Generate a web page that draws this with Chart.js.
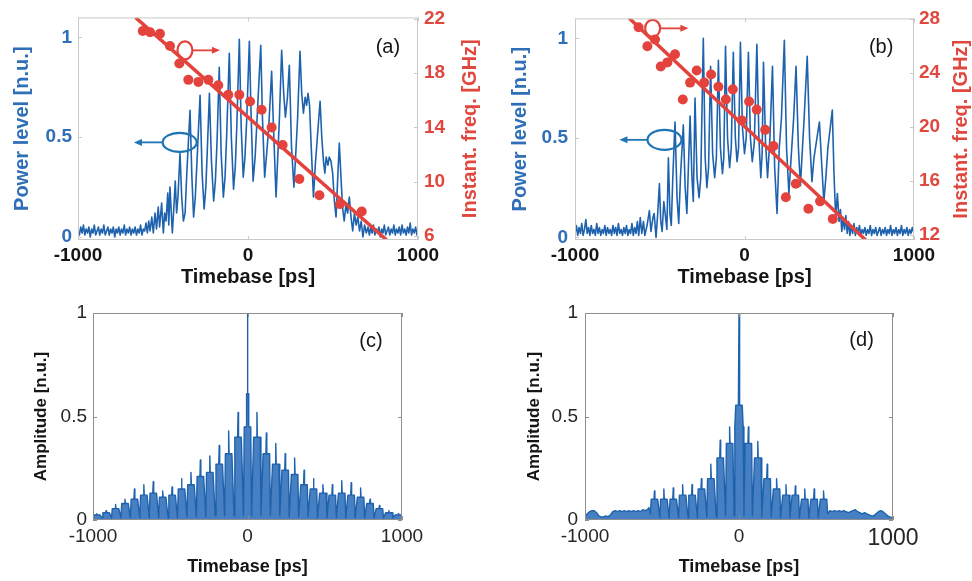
<!DOCTYPE html>
<html>
<head>
<meta charset="utf-8">
<script src="https://cdn.jsdelivr.net/npm/chart.js@4.4.1/dist/chart.umd.min.js"></script>
<style>
  html, body { margin: 0; padding: 0; background: #fff; }
  #wrap { position: relative; width: 972px; height: 581px; overflow: hidden; }
  canvas { position: absolute; }
</style>
</head>
<body>
<div id="wrap">
  <canvas id="chartA" width="486" height="290" style="left:0;top:0"></canvas>
  <canvas id="chartB" width="486" height="290" style="left:486px;top:0"></canvas>
  <canvas id="chartC" width="486" height="291" style="left:0;top:290px"></canvas>
  <canvas id="chartD" width="486" height="291" style="left:486px;top:290px"></canvas>
</div>
<script>
// tick labels
const timeTicks = [-1000, 0, 1000];
const powerTicks = [0, 0.5, 1];
const freqTicksA = [6, 10, 14, 18, 22];
const freqTicksB = [12, 16, 20, 24, 28];
const ampTicks = [0, 0.5, 1];

// (a) pulse power, [time ps, power n.u.]
const powerA = [
  [-1000,0.03],[-992,0.01],[-984,0.05],[-976,0.02],[-968,0.06],[-960,0.01],[-952,0.04],[-944,0.02],[-936,0.05],[-928,0.0],
  [-920,0.04],[-912,0.02],[-904,0.06],[-896,0.01],[-888,0.03],[-880,0.05],[-872,0.01],[-864,0.04],[-856,0.02],[-848,0.06],
  [-840,0.01],[-832,0.03],[-824,0.05],[-816,0.01],[-808,0.04],[-800,0.02],[-792,0.05],[-784,0.0],[-776,0.04],[-768,0.02],
  [-760,0.05],[-752,0.01],[-744,0.04],[-736,0.02],[-728,0.06],[-720,0.01],[-712,0.04],[-704,0.02],[-696,0.05],[-688,0.01],
  [-680,0.04],[-672,0.02],[-664,0.05],[-656,0.01],[-648,0.04],[-640,0.02],[-632,0.06],[-624,0.01],[-616,0.04],[-608,0.03],
  [-600,0.07],[-592,0.02],[-584,0.08],[-576,0.03],[-566,0.1],[-557,0.02],[-547,0.12],[-538,0.04],[-528,0.15],[-520,0.05],
  [-508,0.17],[-498,0.02],[-490,0.12],[-482,0.08],[-472,0.22],[-466,0.06],[-459,0.25],[-450,0.1],[-445,0.02],[-436,0.15],
  [-428,0.28],[-420,0.12],[-412,0.2],[-400,0.42],[-390,0.2],[-380,0.08],[-370,0.12],[-360,0.32],[-341,0.635],[-330,0.3],
  [-320,0.1],[-310,0.2],[-300,0.38],[-282,0.71],[-270,0.32],[-258,0.14],[-248,0.25],[-240,0.42],[-227,0.72],[-215,0.38],
  [-202,0.18],[-192,0.28],[-182,0.48],[-169,0.85],[-158,0.42],[-145,0.2],[-135,0.3],[-125,0.52],[-110,0.92],[-98,0.5],
  [-85,0.24],[-75,0.35],[-66,0.55],[-51,0.99],[-40,0.55],[-28,0.3],[-18,0.4],[-8,0.58],[8,0.98],[18,0.62],
  [30,0.28],[42,0.4],[55,0.62],[75,0.96],[85,0.6],[98,0.3],[110,0.42],[122,0.55],[139,0.83],[150,0.55],
  [165,0.2],[175,0.4],[185,0.6],[198,0.935],[210,0.72],[220,0.6],[232,0.7],[243,0.86],[256,0.45],[270,0.25],
  [280,0.4],[292,0.6],[306,0.93],[316,0.72],[326,0.62],[336,0.7],[345,0.66],[353,0.72],[362,0.66],[372,0.45],
  [385,0.2],[395,0.35],[408,0.5],[424,0.68],[434,0.5],[444,0.38],[452,0.32],[460,0.4],[470,0.36],[478,0.4],
  [488,0.38],[498,0.32],[508,0.18],[518,0.1],[528,0.3],[537,0.47],[547,0.3],[556,0.15],[566,0.08],[576,0.16],
  [586,0.12],[596,0.2],[606,0.1],[616,0.03],[626,0.12],[636,0.06],[646,0.1],[656,0.03],[666,0.08],[676,0.0],
  [686,0.06],[696,0.02],[706,0.05],[714,0.01],[722,0.05],[730,0.02],[738,0.06],[746,0.01],[754,0.04],[762,0.02],
  [770,0.05],[778,0.0],[786,0.04],[794,0.02],[802,0.06],[810,0.01],[818,0.03],[826,0.05],[834,0.01],[842,0.04],
  [850,0.02],[858,0.06],[866,0.01],[874,0.04],[882,0.02],[890,0.05],[898,0.01],[906,0.06],[914,0.02],[922,0.04],
  [930,0.01],[938,0.05],[946,0.02],[954,0.07],[962,0.01],[970,0.04],[978,0.02],[986,0.05],[994,0.01],[1000,0.03]
];
// (a) instantaneous frequency, [time ps, GHz]
const freqA = [
  [-619,21.1],[-576,21.0],[-518,20.9],[-459,20.0],[-404,18.7],[-351,17.5],[-292,17.35],[-233,17.5],[-175,17.1],[-116,16.4],
  [-51,16.4],[12,15.9],[80,15.3],[139,14.0],[204,12.7],[302,10.2],[420,9.0],[541,8.35],[669,7.8]
];
const fitA = [[-662,22.1],[816,5.7]];

// (b) pulse power
const powerB = [
  [-1000,0.02],[-992,0.06],[-984,0.01],[-976,0.05],[-968,0.02],[-960,0.07],[-952,0.01],[-944,0.04],[-936,0.09],[-928,0.02],
  [-920,0.05],[-912,0.01],[-904,0.06],[-896,0.02],[-888,0.04],[-880,0.01],[-872,0.07],[-864,0.02],[-856,0.05],[-848,0.01],
  [-840,0.04],[-832,0.02],[-824,0.06],[-816,0.01],[-808,0.05],[-800,0.02],[-792,0.04],[-784,0.01],[-776,0.06],[-768,0.02],
  [-760,0.05],[-752,0.01],[-744,0.07],[-736,0.02],[-728,0.04],[-720,0.01],[-712,0.05],[-704,0.02],[-696,0.06],[-688,0.01],
  [-680,0.04],[-672,0.02],[-664,0.07],[-656,0.01],[-648,0.05],[-640,0.02],[-632,0.08],[-624,0.01],[-615,0.1],[-606,0.02],
  [-596,0.08],[-588,0.01],[-575,0.06],[-561,0.135],[-552,0.03],[-540,0.1],[-533,0.12],[-522,0.0],[-512,0.12],[-502,0.27],
  [-494,0.08],[-486,0.03],[-476,0.18],[-468,0.12],[-458,0.04],[-449,0.4],[-440,0.12],[-432,0.06],[-423,0.3],[-410,0.58],
  [-398,0.2],[-388,0.07],[-378,0.3],[-361,0.565],[-350,0.25],[-340,0.12],[-321,0.61],[-310,0.3],[-302,0.18],[-292,0.7],
  [-280,0.3],[-268,0.2],[-258,0.3],[-243,1.0],[-232,0.4],[-222,0.25],[-212,0.35],[-200,0.86],[-188,0.42],[-176,0.3],
  [-166,0.4],[-154,0.89],[-142,0.45],[-130,0.32],[-122,0.4],[-112,0.96],[-100,0.5],[-88,0.35],[-78,0.45],[-66,0.93],
  [-54,0.5],[-44,0.38],[-35,0.45],[-24,0.98],[-12,0.55],[0,0.42],[10,0.5],[23,0.93],[35,0.5],[46,0.38],
  [58,0.48],[73,0.97],[85,0.5],[96,0.3],[104,0.42],[112,0.88],[124,0.48],[136,0.3],[150,0.5],[165,0.86],
  [178,0.35],[192,0.12],[205,0.45],[218,0.6],[235,0.99],[248,0.45],[262,0.22],[275,0.4],[290,0.6],[304,0.86],
  [318,0.45],[330,0.26],[342,0.45],[352,0.6],[370,0.91],[384,0.5],[398,0.28],[410,0.4],[424,0.48],[442,0.58],
  [456,0.36],[468,0.18],[480,0.3],[492,0.45],[518,0.64],[528,0.32],[538,0.1],[548,0.22],[558,0.08],[566,0.14],
  [574,0.03],[582,0.1],[590,0.04],[598,0.11],[606,0.02],[614,0.08],[622,0.01],[630,0.06],[638,0.02],[646,0.07],
  [654,0.01],[662,0.05],[670,0.02],[678,0.06],[686,0.01],[694,0.04],[702,0.02],[710,0.05],[718,0.01],[726,0.04],
  [734,0.02],[742,0.06],[750,0.01],[758,0.04],[766,0.02],[774,0.05],[782,0.01],[790,0.03],[798,0.05],[806,0.01],
  [814,0.04],[822,0.02],[830,0.05],[838,0.01],[846,0.04],[854,0.02],[862,0.06],[870,0.01],[878,0.04],[886,0.02],
  [894,0.05],[902,0.01],[910,0.04],[918,0.02],[926,0.06],[934,0.01],[942,0.04],[950,0.02],[958,0.05],[966,0.01],
  [974,0.04],[982,0.02],[990,0.05],[1000,0.02]
];
const freqB = [
  [-625,27.4],[-573,26.0],[-528,26.5],[-494,24.5],[-455,24.8],[-410,25.4],[-364,22.05],[-321,23.3],[-282,24.2],[-238,23.3],
  [-197,23.9],[-154,23.0],[-110,22.05],[-69,22.8],[-16,20.5],[27,21.9],[72,21.3],[122,19.8],[171,18.6],[244,14.8],
  [303,15.8],[377,13.95],[446,14.5],[521,13.2]
];
const fitB = [[-680,28.07],[718,11.6]];

// (c) autocorrelation amplitude, [time ps, n.u.]
const ampC = [
  [-1000,0.01],[-997,0.025],[-979,0.025],[-976,0.03],[-973,0.025],[-955,0.025],
  [-941,0.01],[-936,0.035],[-918,0.035],[-915,0.045],[-912,0.035],[-894,0.035],
  [-880,0.01],[-875,0.055],[-857,0.055],[-854,0.075],[-851,0.055],[-833,0.055],
  [-819,0.01],[-814,0.08],[-796,0.08],[-793,0.1],[-790,0.08],[-772,0.08],
  [-758,0.01],[-753,0.1],[-735,0.1],[-732,0.15],[-729,0.1],[-711,0.1],
  [-697,0.01],[-692,0.12],[-674,0.12],[-671,0.17],[-668,0.12],[-650,0.12],
  [-636,0.01],[-631,0.13],[-613,0.13],[-610,0.185],[-607,0.13],[-589,0.13],
  [-575,0.01],[-570,0.11],[-552,0.11],[-549,0.14],[-546,0.11],[-528,0.11],
  [-514,0.01],[-509,0.12],[-491,0.12],[-488,0.16],[-485,0.12],[-467,0.12],
  [-453,0.01],[-448,0.15],[-430,0.15],[-427,0.2],[-424,0.15],[-406,0.15],
  [-392,0.015],[-387,0.17],[-369,0.17],[-366,0.23],[-363,0.17],[-345,0.17],
  [-331,0.015],[-326,0.21],[-308,0.21],[-305,0.29],[-302,0.21],[-284,0.21],
  [-270,0.015],[-265,0.23],[-247,0.23],[-244,0.31],[-241,0.23],[-223,0.23],
  [-209,0.02],[-204,0.27],[-186,0.27],[-183,0.36],[-180,0.27],[-162,0.27],
  [-148,0.02],[-143,0.32],[-125,0.32],[-122,0.43],[-119,0.32],[-101,0.32],
  [-87,0.02],[-82,0.4],[-64,0.4],[-61,0.52],[-58,0.4],[-40,0.4],
  [-26,0.02],[-21,0.45],[-8,0.45],[-6,0.61],[-2,0.61],[0,1.0],[2,0.61],[6,0.61],[8,0.45],[21,0.45],[26,0.02],
  [40,0.4],[58,0.4],[61,0.52],[64,0.4],[82,0.4],[87,0.02],
  [101,0.32],[119,0.32],[122,0.42],[125,0.32],[143,0.32],[148,0.02],
  [162,0.27],[180,0.27],[183,0.37],[186,0.27],[204,0.27],[209,0.02],
  [223,0.24],[241,0.24],[244,0.32],[247,0.24],[265,0.24],[270,0.015],
  [284,0.22],[302,0.22],[305,0.3],[308,0.22],[326,0.22],[331,0.015],
  [345,0.17],[363,0.17],[366,0.24],[369,0.17],[387,0.17],[392,0.015],
  [406,0.15],[424,0.15],[427,0.2],[430,0.15],[448,0.15],[453,0.01],
  [467,0.13],[485,0.13],[488,0.17],[491,0.13],[509,0.13],[514,0.01],
  [528,0.12],[546,0.12],[549,0.17],[552,0.12],[570,0.12],[575,0.01],
  [589,0.13],[607,0.13],[610,0.19],[613,0.13],[631,0.13],[636,0.01],
  [650,0.12],[668,0.12],[671,0.18],[674,0.12],[692,0.12],[697,0.01],
  [711,0.11],[729,0.11],[732,0.155],[735,0.11],[753,0.11],[758,0.01],
  [772,0.08],[790,0.08],[793,0.1],[796,0.08],[814,0.08],[819,0.01],
  [833,0.055],[851,0.055],[854,0.07],[857,0.055],[875,0.055],[880,0.01],
  [894,0.035],[912,0.035],[915,0.045],[918,0.035],[936,0.035],[941,0.01],
  [955,0.025],[973,0.025],[976,0.03],[979,0.025],[997,0.025],[1000,0.01]
];

// (d) autocorrelation amplitude
const ampD = [
  [-1000,0.015],[-985,0.03],[-970,0.04],[-955,0.045],[-940,0.045],[-925,0.035],[-910,0.02],[-895,0.015],[-880,0.015],[-865,0.02],
  [-850,0.015],[-835,0.025],[-820,0.04],[-805,0.045],[-790,0.04],[-775,0.045],[-760,0.04],[-745,0.045],[-730,0.04],[-715,0.045],
  [-700,0.04],[-685,0.045],[-670,0.04],[-655,0.045],[-640,0.04],[-625,0.05],[-610,0.045],[-595,0.05],[-585,0.06],
  [-575,0.03],[-570,0.1],[-552,0.1],[-549,0.14],[-546,0.1],[-528,0.1],
  [-514,0.01],[-509,0.1],[-491,0.1],[-488,0.15],[-485,0.1],[-467,0.1],
  [-453,0.01],[-448,0.1],[-430,0.1],[-427,0.155],[-424,0.1],[-406,0.1],
  [-392,0.01],[-387,0.12],[-369,0.12],[-366,0.17],[-363,0.12],[-345,0.12],
  [-331,0.01],[-326,0.12],[-308,0.12],[-305,0.17],[-302,0.12],[-284,0.12],
  [-270,0.01],[-265,0.15],[-247,0.15],[-244,0.2],[-241,0.15],[-223,0.15],
  [-209,0.015],[-204,0.2],[-186,0.2],[-183,0.27],[-180,0.2],[-162,0.2],
  [-148,0.015],[-143,0.3],[-125,0.3],[-122,0.386],[-119,0.3],[-101,0.3],
  [-87,0.02],[-82,0.37],[-64,0.37],[-61,0.45],[-58,0.37],[-40,0.37],
  [-32,0.02],[-27,0.45],[-21,0.555],[-4,0.555],[0,1.0],[4,0.555],[21,0.555],[27,0.45],[32,0.02],
  [40,0.37],[58,0.37],[61,0.45],[64,0.37],[82,0.37],[87,0.02],
  [101,0.3],[119,0.3],[122,0.38],[125,0.3],[143,0.3],[148,0.015],
  [162,0.2],[180,0.2],[183,0.27],[186,0.2],[204,0.2],[209,0.015],
  [223,0.15],[241,0.15],[244,0.2],[247,0.15],[265,0.15],[270,0.01],
  [284,0.12],[302,0.12],[305,0.17],[308,0.12],[326,0.12],[331,0.01],
  [345,0.12],[363,0.12],[366,0.165],[369,0.12],[387,0.12],[392,0.01],
  [406,0.1],[424,0.1],[427,0.15],[430,0.1],[448,0.1],[453,0.01],
  [467,0.1],[485,0.1],[488,0.15],[491,0.1],[509,0.1],[514,0.01],
  [528,0.1],[546,0.1],[549,0.14],[552,0.1],[570,0.1],[575,0.03],
  [590,0.045],[605,0.04],[620,0.045],[635,0.04],[650,0.045],[665,0.04],[680,0.045],[695,0.04],[710,0.035],[725,0.04],
  [740,0.045],[755,0.05],[770,0.04],[785,0.035],[800,0.03],[815,0.035],[830,0.03],[845,0.025],[860,0.02],[875,0.02],
  [890,0.03],[905,0.04],[920,0.045],[935,0.04],[950,0.03],[965,0.02],[980,0.015],[1000,0.01]
];

const FONT = '"Liberation Sans", Arial, Helvetica, sans-serif';
const BLUE = '#1e62ae';
const BLUE_TXT = '#2f6fb8';
const RED = '#e4433d';
const RED_TXT = '#e0483f';
const INK = '#151515';

Chart.defaults.font.family = FONT;

const xy = arr => arr.map(p => ({ x: p[0], y: p[1] }));
const fixTicks = vals => axis => { axis.ticks = vals.map(v => ({ value: v })); };
const plain = v => String(v);

// frame, inward ticks, panel tag, ellipse markers, right-hand title
const decor = {
  id: 'decor',
  afterDatasetsDraw(chart, args, o) {
    const { ctx, scales } = chart;
    ctx.save();
    (o.marks || []).forEach(m => {
      const cx = scales.x.getPixelForValue(m.x);
      const cy = scales.y.getPixelForValue(m.y);
      const tip = scales.x.getPixelForValue(m.to);
      const dir = tip > cx ? 1 : -1;
      ctx.strokeStyle = m.color;
      ctx.fillStyle = m.color;
      ctx.lineWidth = 2.2;
      ctx.beginPath();
      ctx.ellipse(cx, cy, m.rx, m.ry, 0, 0, Math.PI * 2);
      ctx.stroke();
      ctx.lineWidth = 1.8;
      ctx.beginPath();
      ctx.moveTo(cx + dir * m.rx, cy);
      ctx.lineTo(tip - dir * 6, cy);
      ctx.stroke();
      ctx.beginPath();
      ctx.moveTo(tip, cy);
      ctx.lineTo(tip - dir * 8, cy - 3.5);
      ctx.lineTo(tip - dir * 8, cy + 3.5);
      ctx.closePath();
      ctx.fill();
    });
    ctx.restore();
  },
  afterDraw(chart, args, o) {
    const { ctx, chartArea: a, scales } = chart;
    const seg = (x1, y1, x2, y2) => { ctx.beginPath(); ctx.moveTo(x1, y1); ctx.lineTo(x2, y2); ctx.stroke(); };
    ctx.save();
    ctx.strokeStyle = o.frame;
    ctx.lineWidth = 1;
    ctx.strokeRect(a.left + 0.5, a.top + 0.5, a.right - a.left - 1, a.bottom - a.top - 1);
    const T = 4;
    scales.x.ticks.forEach(t => {
      const px = Math.round(scales.x.getPixelForValue(t.value)) + 0.5;
      seg(px, a.bottom, px, a.bottom - T);
      seg(px, a.top, px, a.top + T);
    });
    scales.y.ticks.forEach(t => {
      const py = Math.round(scales.y.getPixelForValue(t.value)) + 0.5;
      seg(a.left, py, a.left + T, py);
      if (!scales.y1) seg(a.right, py, a.right - T, py);
    });
    if (scales.y1) {
      scales.y1.ticks.forEach(t => {
        const py = Math.round(scales.y1.getPixelForValue(t.value)) + 0.5;
        seg(a.right, py, a.right - T, py);
      });
    }
    if (o.tag) {
      ctx.fillStyle = INK;
      ctx.font = '20px ' + FONT;
      ctx.textAlign = 'center';
      ctx.textBaseline = 'middle';
      ctx.fillText(o.tag.text, scales.x.getPixelForValue(o.tag.x), scales.y.getPixelForValue(o.tag.y));
    }
    if (o.rightTitle) {
      ctx.translate(scales.y1.right - o.rightTitle.offset, (a.top + a.bottom) / 2);
      ctx.rotate(-Math.PI / 2);
      ctx.fillStyle = RED_TXT;
      ctx.font = 'bold 20px ' + FONT;
      ctx.textAlign = 'center';
      ctx.textBaseline = 'middle';
      ctx.fillText(o.rightTitle.text, 0, 0);
    }
    ctx.restore();
  }
};

function topPanel(id, cfg) {
  return new Chart(document.getElementById(id), {
    type: 'line',
    data: {
      datasets: [
        { data: xy(cfg.freq), yAxisID: 'y1', showLine: false, pointRadius: 5, pointHoverRadius: 5,
          pointBackgroundColor: RED, pointBorderWidth: 0 },
        { data: xy(cfg.fit), yAxisID: 'y1', borderColor: RED, borderWidth: 3.5, pointRadius: 0 },
        { data: xy(cfg.power), yAxisID: 'y', borderColor: BLUE, borderWidth: 1.6, pointRadius: 0,
          borderJoinStyle: 'round' }
      ]
    },
    plugins: [decor],
    options: {
      responsive: false, animation: false, devicePixelRatio: 1,
      layout: { padding: { top: cfg.top, left: 0, right: 0, bottom: 0 } },
      plugins: {
        legend: { display: false }, tooltip: { enabled: false },
        decor: { frame: '#c9c9c9', tag: cfg.tag, marks: cfg.marks, rightTitle: { text: 'Instant. freq. [GHz]', offset: cfg.rtOffset } }
      },
      scales: {
        x: {
          type: 'linear', min: -1000, max: 1000,
          afterBuildTicks: fixTicks(timeTicks), afterFit: s => { s.height = 50; },
          grid: { display: false, drawTicks: false }, border: { display: false },
          ticks: { callback: plain, color: INK, font: { size: 19, weight: 'bold' }, padding: 4, maxRotation: 0, autoSkip: false },
          title: { display: true, text: 'Timebase [ps]', color: INK, font: { size: 20, weight: 'bold' }, padding: { top: 0, bottom: 1 } }
        },
        y: {
          type: 'linear', position: 'left', min: cfg.pMin, max: 1.1,
          afterBuildTicks: fixTicks(powerTicks), afterFit: s => { s.width = cfg.leftW; },
          grid: { display: false, drawTicks: false }, border: { display: false },
          ticks: { callback: plain, color: BLUE_TXT, font: { size: 19, weight: 'bold' }, padding: cfg.leftPad },
          title: { display: true, text: 'Power level [n.u.]', color: BLUE_TXT, font: { size: 20, weight: 'bold' }, padding: { top: cfg.leftTitlePad, bottom: 0 } }
        },
        y1: {
          type: 'linear', position: 'right', min: cfg.fMin, max: cfg.fMax,
          afterBuildTicks: fixTicks(cfg.fTicks), afterFit: s => { s.width = cfg.rightW; },
          grid: { display: false, drawTicks: false }, border: { display: false },
          ticks: { callback: plain, color: RED_TXT, font: { size: 19, weight: 'bold' }, padding: cfg.rightPad }
        }
      }
    }
  });
}

function bottomPanel(id, cfg) {
  return new Chart(document.getElementById(id), {
    type: 'line',
    data: {
      datasets: [
        { data: xy(cfg.amp), borderColor: BLUE, borderWidth: 1.4, pointRadius: 0, borderJoinStyle: 'round',
          fill: 'origin', backgroundColor: 'rgba(44,110,185,0.88)' }
      ]
    },
    plugins: [decor],
    options: {
      responsive: false, animation: false, devicePixelRatio: 1,
      layout: { padding: { top: 23, left: 0, right: cfg.right, bottom: 0 } },
      plugins: {
        legend: { display: false }, tooltip: { enabled: false },
        decor: { frame: '#8e8e8e', tag: cfg.tag }
      },
      scales: {
        x: {
          type: 'linear', min: -1000, max: 1000,
          afterBuildTicks: fixTicks(timeTicks), afterFit: s => { s.height = 61; },
          grid: { display: false, drawTicks: false }, border: { display: false },
          ticks: { callback: plain, color: '#262626', font: cfg.xFont, padding: 5, maxRotation: 0, autoSkip: false },
          title: { display: true, text: 'Timebase [ps]', color: INK, font: { size: 18, weight: 'bold' }, padding: { top: 0, bottom: 3 } }
        },
        y: {
          type: 'linear', min: 0, max: 1,
          afterBuildTicks: fixTicks(ampTicks), afterFit: s => { s.width = cfg.leftW; },
          grid: { display: false, drawTicks: false }, border: { display: false },
          ticks: { callback: plain, color: '#262626', font: { size: 19 }, padding: cfg.leftPad },
          title: { display: true, text: 'Amplitude [n.u.]', color: INK, font: { size: 17, weight: 'bold' }, padding: { top: cfg.leftTitlePad, bottom: 0 } }
        }
      }
    }
  });
}

topPanel('chartA', {
  power: powerA, freq: freqA, fit: fitA, fTicks: freqTicksA,
  top: 17, pMin: -0.015, fMin: 5.706, fMax: 22.1,
  leftW: 78, rightW: 68, leftPad: 6, rightPad: 6, leftTitlePad: 10, rtOffset: 16,
  tag: { text: '(a)', x: 823, y: 0.95 },
  marks: [
    { x: -371, y: 0.935, rx: 7.5, ry: 9, color: RED, to: -165 },
    { x: -402, y: 0.474, rx: 17, ry: 9.5, color: '#1f74b3', to: -671 }
  ]
});

topPanel('chartB', {
  power: powerB, freq: freqB, fit: fitB, fTicks: freqTicksB,
  top: 15, pMin: -0.013, fMin: 11.635, fMax: 28.06,
  leftW: 89, rightW: 58, leftPad: 7, rightPad: 5, leftTitlePad: 22, rtOffset: 11,
  tag: { text: '(b)', x: 806, y: 0.952 },
  marks: [
    { x: -542, y: 1.05, rx: 7.5, ry: 8.5, color: RED, to: -331 },
    { x: -472, y: 0.49, rx: 17, ry: 10, color: '#1f74b3', to: -738 }
  ]
});

bottomPanel('chartC', {
  amp: ampC, right: 84, leftW: 93, leftPad: 6, leftTitlePad: 31,
  xFont: { size: 19 },
  tag: { text: '(c)', x: 799, y: 0.86 }
});

bottomPanel('chartD', {
  amp: ampD, right: 79, leftW: 99, leftPad: 7, leftTitlePad: 38,
  xFont: ctx => (ctx.tick && ctx.tick.value === 1000 ? { size: 23 } : { size: 19 }),
  tag: { text: '(d)', x: 796, y: 0.865 }
});
</script>
</body>
</html>
